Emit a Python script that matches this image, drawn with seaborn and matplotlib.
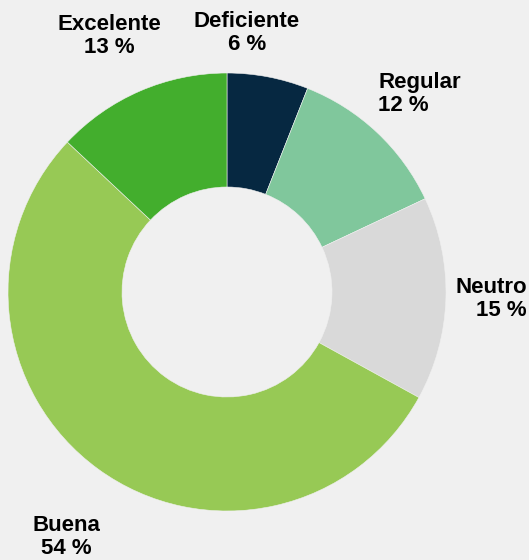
import matplotlib
matplotlib.use("Agg")
import matplotlib.pyplot as plt
import seaborn as sns

# Data
categories = ["Deficiente", "Regular", "Neutro", "Buena", "Excelente"]
shares = [6, 12, 15, 54, 13]
colors = ["#062841", "#80c79c", "#d9d9d9", "#97c955", "#43ae2d"]

sns.set_style("white")
plt.rcParams["font.family"] = ["Liberation Sans", "DejaVu Sans"]

W, H = 529, 560
fig = plt.figure(figsize=(W / 100, H / 100), dpi=100, facecolor="#f0f0f0")
ax = fig.add_axes([0, 0, 1, 1])
ax.set_facecolor("#f0f0f0")

# pixel-like coordinate system, y measured up from the bottom
cx, cy, r = 227, H - 292, 219
ax.pie(shares, colors=colors, startangle=90, counterclock=False,
       center=(cx, cy), radius=r,
       wedgeprops=dict(width=r - 105, edgecolor="#f0f0f0", linewidth=0.4))
ax.set_xlim(0, W)
ax.set_ylim(0, H)
ax.set_aspect("equal")
ax.axis("off")

# label placement (x, y in pixels from top, alignment)
label_pos = {
    "Deficiente": (247, 33, "center"),
    "Regular": (378, 94, "left"),
    "Neutro": (527, 299, "right"),
    "Buena": (66, 537, "center"),
    "Excelente": (109, 36, "center"),
}
for cat, val in zip(categories, shares):
    x, y, ha = label_pos[cat]
    ax.text(x, H - y, f"{cat}\n{val} %", ha=ha, va="center", ma=ha,
            fontsize=16, fontweight="bold", linespacing=1.12, color="black")

fig.savefig("out.png", dpi=100, facecolor=fig.get_facecolor())
